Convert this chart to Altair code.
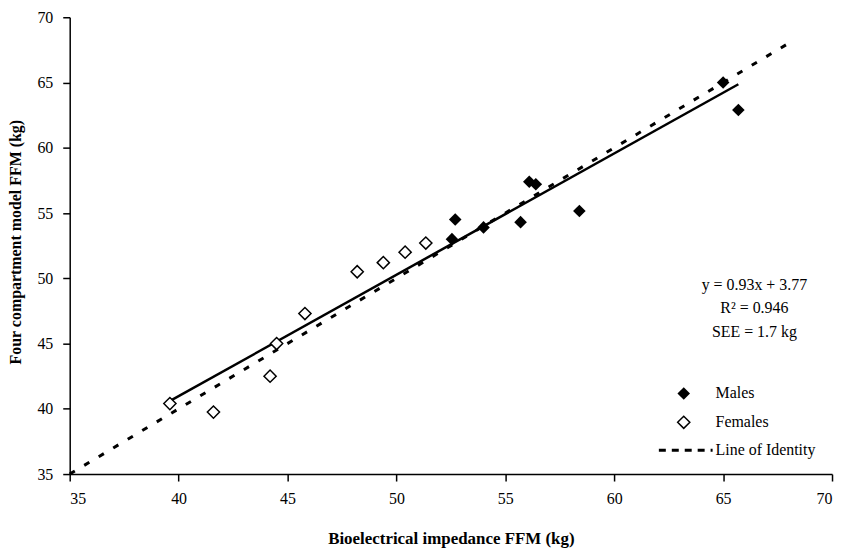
import altair as alt
import pandas as pd

# Data
male_x = [52.55, 52.7, 54.0, 55.7, 56.1, 56.4, 58.4, 65.0, 65.7]
male_y = [53.0, 54.5, 53.9, 54.3, 57.4, 57.2, 55.15, 65.0, 62.9]
female_x = [39.6, 41.6, 44.2, 44.5, 45.8, 48.2, 49.4, 50.4, 51.35]
female_y = [40.4, 39.75, 42.5, 45.0, 47.3, 50.5, 51.2, 52.0, 52.7]
reg_x = [39.65, 65.7]
reg_y = [40.64, 64.87]
ident_x = [35, 68]
ident_y = [35, 68]
ticks = [35, 40, 45, 50, 55, 60, 65, 70]
annot_lines = ["y = 0.93x + 3.77", "R² = 0.946", "SEE = 1.7 kg"]
legend_labels = ["Males", "Females", "Line of Identity"]

FONT = "Liberation Serif"
W, H = 766, 459

males = pd.DataFrame({"x": male_x, "y": male_y})
females = pd.DataFrame({"x": female_x, "y": female_y})
reg = pd.DataFrame({"x": reg_x, "y": reg_y})
ident = pd.DataFrame({"x": ident_x, "y": ident_y})

xs = alt.Scale(domain=[35, 70], nice=False, zero=False)
ys = alt.Scale(domain=[35, 70], nice=False, zero=False)

common = dict(grid=False, tickSize=7, tickColor="black", domainColor="black", domainWidth=1.5,
              tickWidth=1.5, labelFont=FONT, labelFontSize=16, labelColor="black", labelPadding=10,
              titleFont=FONT, titleFontWeight="bold", titleColor="black", titleAlign="center")
xax = alt.Axis(values=ticks, title="Bioelectrical impedance FFM (kg)", titleFontSize=17,
               titleX=W / 2, titleY=70, titleBaseline="alphabetic", **common)
yax = alt.Axis(values=ticks, title="Four compartment model FFM (kg)", titleFontSize=16,
               titleX=-54, titleY=H / 2 - 4, titleBaseline="middle", titleAngle=270, **common)

ident_line = alt.Chart(ident).mark_line(color="black", strokeWidth=3, strokeDash=[6, 11]).encode(
    x=alt.X("x:Q", scale=xs, axis=xax), y=alt.Y("y:Q", scale=ys, axis=yax))
reg_line = alt.Chart(reg).mark_line(color="black", strokeWidth=2.5).encode(
    x=alt.X("x:Q", scale=xs), y=alt.Y("y:Q", scale=ys))
fem_pts = alt.Chart(females).mark_point(shape="diamond", size=150, filled=False, color="black",
                                         fill="white", fillOpacity=1, strokeWidth=1.5, opacity=1).encode(
    x=alt.X("x:Q", scale=xs), y=alt.Y("y:Q", scale=ys))
male_pts = alt.Chart(males).mark_point(shape="diamond", size=160, filled=True, color="black", opacity=1).encode(
    x=alt.X("x:Q", scale=xs), y=alt.Y("y:Q", scale=ys))

one = pd.DataFrame({"a": [0]})
layers = [ident_line, reg_line, fem_pts, male_pts]

# equation annotation
for i, t in enumerate(annot_lines):
    layers.append(alt.Chart(one).mark_text(font=FONT, fontSize=16, color="black", align="center",
                                           baseline="middle", text=t).encode(
        x=alt.value(688), y=alt.value(269 + i * 23.5)))

# manual legend
leg_y = [378, 407, 435]
for i, t in enumerate(legend_labels):
    layers.append(alt.Chart(one).mark_text(font=FONT, fontSize=16, color="black", align="left",
                                           baseline="middle", text=t).encode(
        x=alt.value(649), y=alt.value(leg_y[i])))
layers.append(alt.Chart(one).mark_point(shape="diamond", size=160, filled=True, color="black", opacity=1).encode(
    x=alt.value(617), y=alt.value(leg_y[0])))
layers.append(alt.Chart(one).mark_point(shape="diamond", size=150, filled=False, color="black",
                                        strokeWidth=1.5, opacity=1).encode(
    x=alt.value(617), y=alt.value(leg_y[1])))
layers.append(alt.Chart(one).mark_rule(color="black", strokeWidth=3, strokeDash=[7, 6]).encode(
    x=alt.value(592), x2=alt.value(646), y=alt.value(leg_y[2])))

chart = alt.layer(*layers).properties(
    width=W, height=H,
    autosize=alt.AutoSizeParams(type="none"),
    padding={"left": 62, "top": 8, "right": 5, "bottom": 74},
    background="white",
).configure_view(stroke=None)

chart.save("out.html", embed_options={"renderer": "svg", "actions": False})
